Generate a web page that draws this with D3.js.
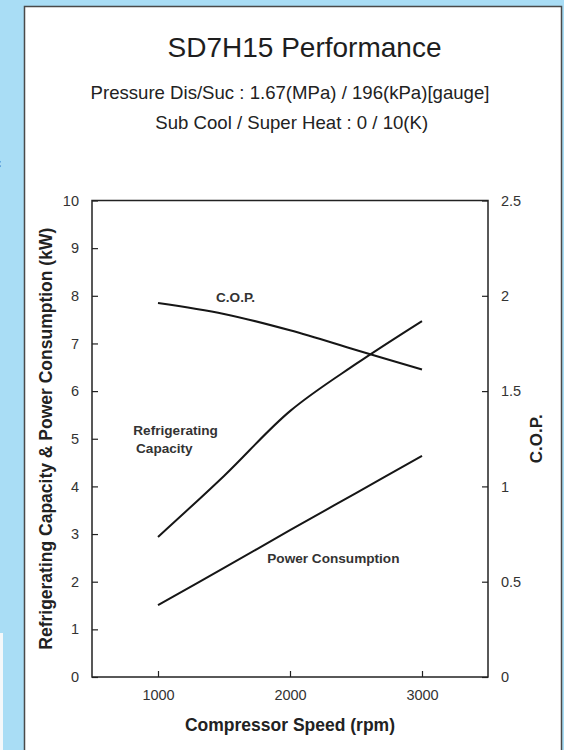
<!DOCTYPE html>
<html>
<head>
<meta charset="utf-8">
<script src="https://cdn.jsdelivr.net/npm/d3@7"></script>
<style>
  html, body { margin: 0; padding: 0; background: #a9ddf5; }
  svg { display: block; }
  text { font-family: "Liberation Sans", Arial, Helvetica, sans-serif; }
</style>
</head>
<body>
<script>
// ---- data ----
const speeds = [1000, 1500, 2000, 2500, 3000];          // rpm
const capacity = [2.94, 4.22, 5.58, 6.57, 7.47];        // kW
const power = [1.51, 2.29, 3.08, 3.86, 4.64];           // kW
const cop = [1.962, 1.905, 1.819, 1.716, 1.613];        // C.O.P.
const xTicks = [1000, 2000, 3000];
const yLeftTicks = [0, 1, 2, 3, 4, 5, 6, 7, 8, 9, 10];
const yRightTicks = [0, 0.5, 1, 1.5, 2, 2.5];

(function () {
const W = 564, H = 750;
const svg = d3.select("body").append("svg").attr("width", W).attr("height", H);

// background panel
svg.append("rect").attr("x", 0).attr("y", 0).attr("width", W).attr("height", H).attr("fill", "#a9ddf5");
svg.append("rect").attr("x", 0).attr("y", 633).attr("width", 3).attr("height", H - 633).attr("fill", "#f4f8fa");
svg.append("text").attr("x", -6).attr("y", 168).attr("font-size", 14).attr("fill", "#333").text("c");
svg.append("rect").attr("x", 24.5).attr("y", 6.5).attr("width", 537).attr("height", H)
  .attr("fill", "#ffffff").attr("stroke", "#4a4a4a").attr("stroke-width", 1.5);

// titles
svg.append("text").attr("x", 304.5).attr("y", 57).attr("text-anchor", "middle")
  .attr("font-size", 28).attr("fill", "#1e1e1e").text("SD7H15 Performance");
svg.append("text").attr("x", 290).attr("y", 99).attr("text-anchor", "middle")
  .attr("font-size", 18.6).attr("fill", "#222").text("Pressure Dis/Suc : 1.67(MPa) / 196(kPa)[gauge]");
svg.append("text").attr("x", 291.7).attr("y", 128.5).attr("text-anchor", "middle")
  .attr("font-size", 18.6).attr("fill", "#222").text("Sub Cool / Super Heat : 0 / 10(K)");

// scales
const pLeft = 92, pRight = 488, pTop = 200.5, pBottom = 677;
const x = d3.scaleLinear().domain([500, 3500]).range([pLeft, pRight]);
const yL = d3.scaleLinear().domain([0, 10]).range([pBottom, pTop]);
const yR = d3.scaleLinear().domain([0, 2.5]).range([pBottom, pTop]);

const g = svg.append("g");

function styleAxis(sel) {
  sel.select(".domain").remove();
  sel.selectAll(".tick line").attr("stroke", "#222").attr("stroke-width", 1.2);
  sel.selectAll(".tick text").attr("fill", "#333").attr("font-size", 14.5)
    .attr("font-family", "'Liberation Sans', Arial, Helvetica, sans-serif");
}

g.append("g").attr("transform", `translate(${pLeft},0)`)
  .call(d3.axisLeft(yL).tickValues(yLeftTicks).tickSizeInner(-6).tickSizeOuter(0).tickPadding(13).tickFormat(d3.format("d")))
  .call(styleAxis);
g.append("g").attr("transform", `translate(${pRight},0)`)
  .call(d3.axisRight(yR).tickValues(yRightTicks).tickSizeInner(-6).tickSizeOuter(0).tickPadding(13).tickFormat(d => String(d)))
  .call(styleAxis);
g.append("g").attr("transform", `translate(0,${pBottom})`)
  .call(d3.axisBottom(x).tickValues(xTicks).tickSizeInner(-6).tickSizeOuter(0).tickPadding(13).tickFormat(d3.format("d")))
  .call(styleAxis);

// frame
g.append("rect").attr("x", pLeft).attr("y", pTop).attr("width", pRight - pLeft).attr("height", pBottom - pTop)
  .attr("fill", "none").attr("stroke", "#222").attr("stroke-width", 1.5);

// lines
const lineL = d3.line().x((d, i) => x(speeds[i])).y(d => yL(d)).curve(d3.curveCatmullRom);
const lineR = d3.line().x((d, i) => x(speeds[i])).y(d => yR(d)).curve(d3.curveCatmullRom);
const lineStyle = p => p.attr("fill", "none").attr("stroke", "#161616").attr("stroke-width", 2);
g.append("path").datum(capacity).attr("d", lineL).call(lineStyle);
g.append("path").datum(power).attr("d", lineL).call(lineStyle);
g.append("path").datum(cop).attr("d", lineR).call(lineStyle);

// series labels
const lab = (tx, ty, s) => g.append("text").attr("x", tx).attr("y", ty).attr("font-size", 13.6)
  .attr("font-weight", "bold").attr("fill", "#333").text(s);
lab(216, 301.7, "C.O.P.");
lab(133.3, 435, "Refrigerating");
lab(136, 453.3, "Capacity");
lab(267.3, 563.3, "Power Consumption");

// axis titles
svg.append("text").attr("x", 290).attr("y", 731).attr("text-anchor", "middle")
  .attr("font-size", 17.5).attr("font-weight", "bold").attr("fill", "#222").text("Compressor Speed (rpm)");
svg.append("text").attr("transform", `translate(51.5,${(pTop + pBottom) / 2}) rotate(-90)`)
  .attr("text-anchor", "middle").attr("font-size", 17.5).attr("font-weight", "bold").attr("fill", "#222")
  .text("Refrigerating Capacity & Power Consumption (kW)");
svg.append("text").attr("transform", `translate(542,${(pTop + pBottom) / 2}) rotate(-90)`)
  .attr("text-anchor", "middle").attr("font-size", 17).attr("font-weight", "bold").attr("fill", "#222")
  .text("C.O.P.");
})();
</script>
</body>
</html>
